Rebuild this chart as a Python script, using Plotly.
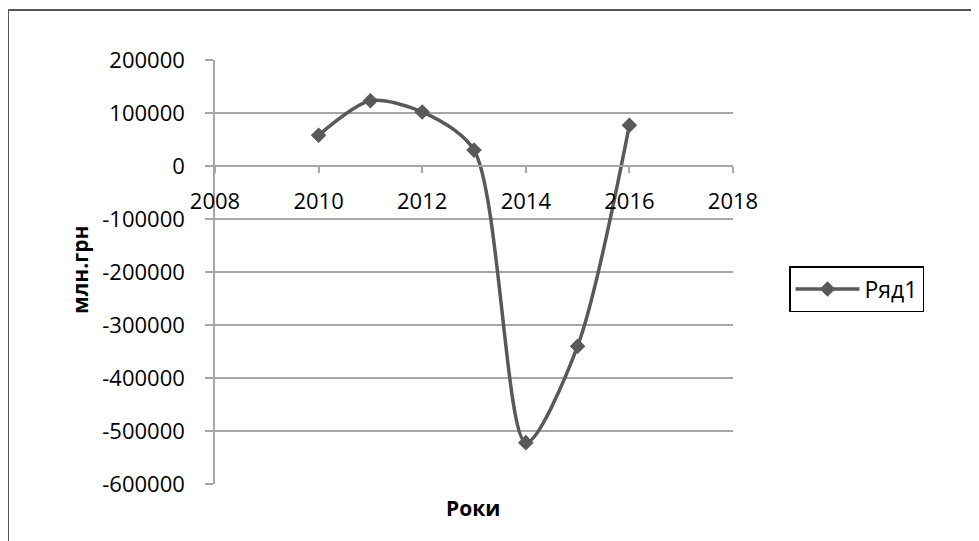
import plotly.graph_objects as go

years = [2010, 2011, 2012, 2013, 2014, 2015, 2016]
values = [58000, 123000, 102000, 30000, -522000, -340000, 77000]
series_name = "Ряд1"
y_title = "млн.грн"
x_title = "Роки"
x_ticks = [2008, 2010, 2012, 2014, 2016, 2018]
y_ticks = [200000, 100000, 0, -100000, -200000, -300000, -400000, -500000, -600000]

W, H = 979, 541
OFF = 8  # page body margin offset
L, R, T, B = 215 - OFF, 733 - OFF, 60 - OFF, 484 - OFF
pw, ph = R - L, B - T

def px(xp):
    return (xp - OFF - L) / pw

def py(yp):
    return (B - (yp - OFF)) / ph

font_family = "Open Sans, Liberation Sans, sans-serif"
line_color = "#595959"
grid_color = "#a6a6a6"

fig = go.Figure()
fig.add_trace(go.Scatter(
    x=years, y=values, name=series_name, mode="lines+markers",
    line=dict(color=line_color, width=3.5, shape="spline", smoothing=0.8),
    marker=dict(symbol="diamond", size=12, color=line_color),
))

fig.update_layout(
    width=W, height=H,
    margin=dict(l=L, r=W - R, t=T, b=H - B, autoexpand=False),
    paper_bgcolor="white", plot_bgcolor="white",
    font=dict(family=font_family, size=22, color="black"),
    showlegend=True,
    legend=dict(
        x=px(789), y=py(266), xanchor="left", yanchor="top",
        bordercolor="black", borderwidth=1.5,
        font=dict(size=23, color="black"),
        itemwidth=64,
    ),
    xaxis=dict(
        range=[2008, 2018], tickvals=x_ticks, ticktext=[str(t) for t in x_ticks],
        showgrid=False, zeroline=False,
        showline=True, linecolor=grid_color, linewidth=1.5,
        ticks="outside", ticklen=6, tickcolor=grid_color, tickwidth=1.5,
        anchor="free", position=py(166),
        ticklabelstandoff=10,
    ),
    yaxis=dict(
        range=[-600000, 200000], tickvals=y_ticks, ticktext=[str(t) for t in y_ticks],
        showgrid=True, gridcolor=grid_color, gridwidth=1.5,
        zeroline=False,
        showline=True, linecolor=grid_color, linewidth=1.5,
        ticks="outside", ticklen=8, tickcolor=grid_color, tickwidth=1.5,
        ticklabelstandoff=16,
    ),
    shapes=[
        dict(type="rect", xref="paper", yref="paper",
             x0=px(8), x1=px(1100), y0=py(700), y1=py(10),
             line=dict(color="#555555", width=2), fillcolor="rgba(0,0,0,0)", layer="below"),
    ],
    annotations=[
        dict(text="<b>" + y_title + "</b>", xref="paper", yref="paper",
             x=px(80), y=py(270), textangle=-90, showarrow=False,
             font=dict(size=21), xanchor="center", yanchor="middle"),
        dict(text="<b>" + x_title + "</b>", xref="paper", yref="paper",
             x=px(473), y=py(508), showarrow=False,
             font=dict(size=21), xanchor="center", yanchor="middle"),
    ],
)

fig.write_html("out.html")
